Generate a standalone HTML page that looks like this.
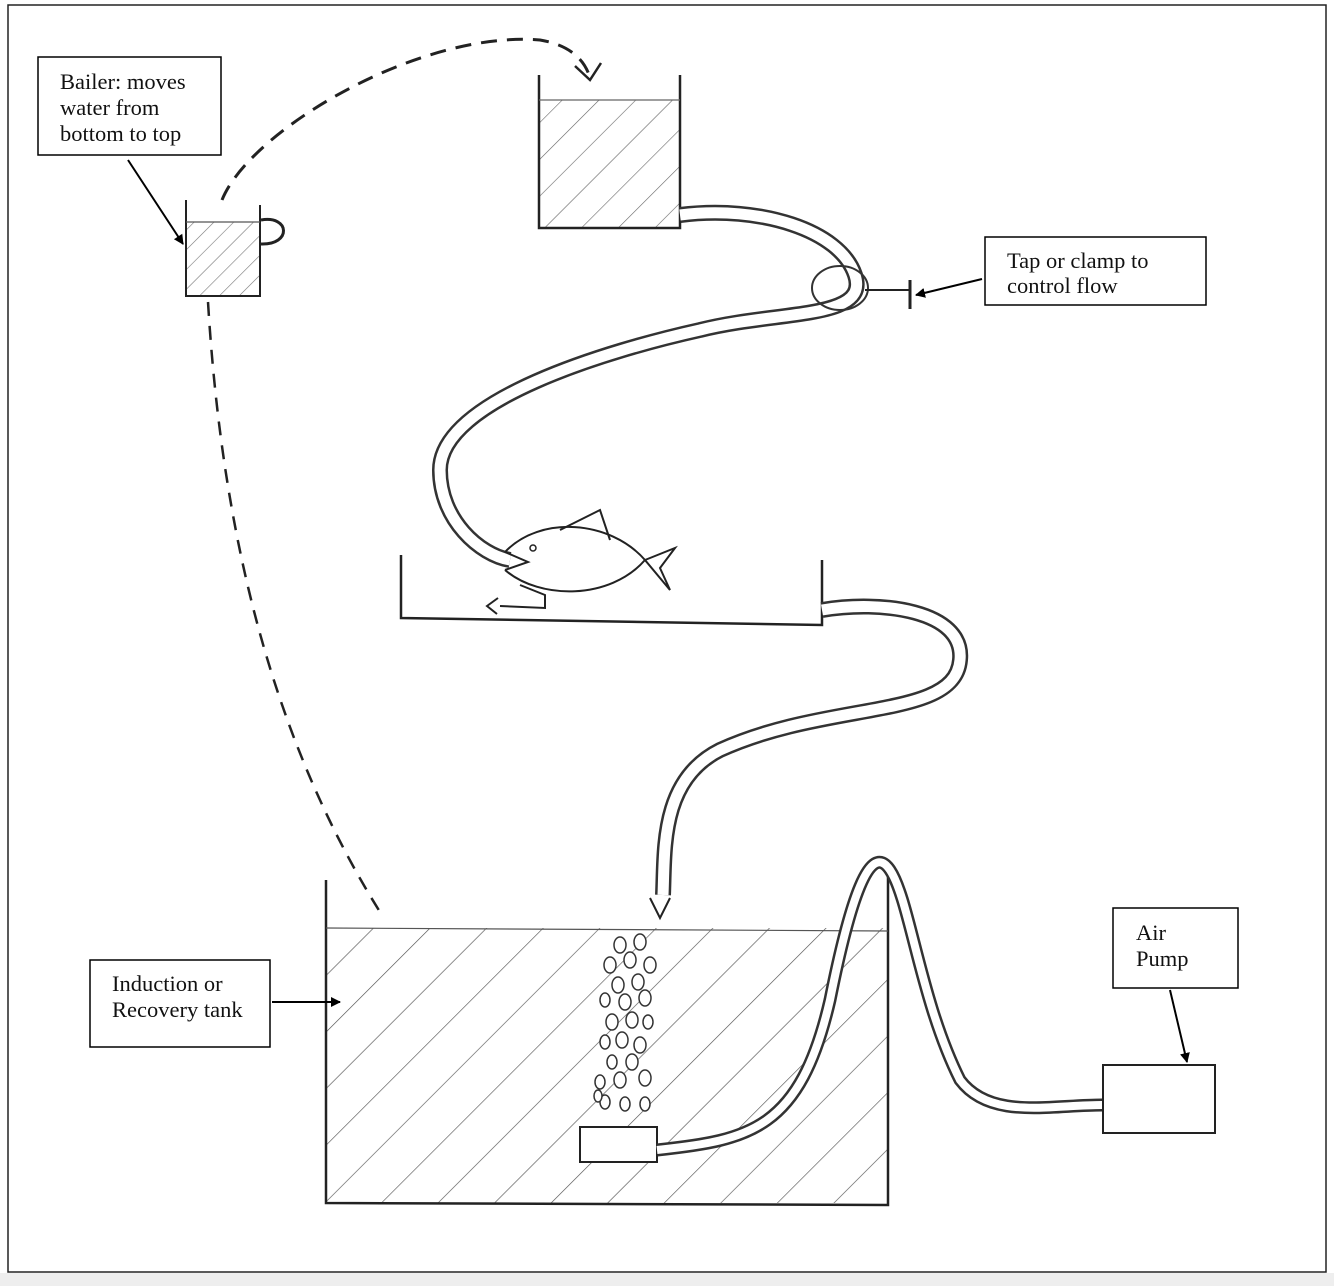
<!DOCTYPE html>
<html><head><meta charset="utf-8"><style>
html,body{margin:0;padding:0;background:#fff;}
svg{display:block;}
text{font-family:"Liberation Serif",serif;font-size:22.5px;fill:#111;}
</style></head><body>
<svg width="1334" height="1286" viewBox="0 0 1334 1286" xmlns="http://www.w3.org/2000/svg">
<defs>
<pattern id="h1" width="40" height="40" patternUnits="userSpaceOnUse" patternTransform="rotate(45)">
<line x1="0" y1="0" x2="0" y2="40" stroke="#555" stroke-width="1.3"/></pattern>
<pattern id="h2" width="26" height="26" patternUnits="userSpaceOnUse" patternTransform="rotate(45)">
<line x1="0" y1="0" x2="0" y2="26" stroke="#666" stroke-width="1.2"/></pattern>
<pattern id="h3" width="14" height="14" patternUnits="userSpaceOnUse" patternTransform="rotate(45)">
<line x1="0" y1="0" x2="0" y2="14" stroke="#777" stroke-width="1.2"/></pattern>
<marker id="ar" markerWidth="10" markerHeight="10" refX="9" refY="5" orient="auto" markerUnits="userSpaceOnUse">
<path d="M0,0 L10,5 L0,10 z" fill="#000"/></marker>
</defs>
<rect x="0" y="0" width="1334" height="1286" fill="#fff"/>
<rect x="0" y="1273" width="1334" height="13" fill="#eee"/>
<rect x="8" y="5" width="1318" height="1267" fill="none" stroke="#222" stroke-width="1.5"/>

<rect x="38" y="57" width="183" height="98" fill="#fff" stroke="#000" stroke-width="1.5"/>
<text x="60" y="89">Bailer: moves</text>
<text x="60" y="115">water from</text>
<text x="60" y="141">bottom to top</text>
<line x1="128" y1="160" x2="183" y2="244" stroke="#000" stroke-width="2" marker-end="url(#ar)"/>

<rect x="186" y="222" width="74" height="73" fill="url(#h3)"/>
<path d="M186,200 L186,296 L260,296 L260,205" fill="none" stroke="#222" stroke-width="2"/>
<line x1="186" y1="222" x2="260" y2="222" stroke="#555" stroke-width="1.2"/>
<path d="M261,220 C290,215 292,245 261,244" fill="none" stroke="#222" stroke-width="3"/>

<path d="M222,200 C250,130 420,30 540,40 C570,45 585,60 590,78" fill="none" stroke="#222" stroke-width="3" stroke-dasharray="16,10"/>
<path d="M575,66 L590,80 L601,63" fill="none" stroke="#222" stroke-width="2.5"/>
<path d="M208,302 C220,500 260,720 380,912" fill="none" stroke="#222" stroke-width="2.5" stroke-dasharray="14,10"/>

<rect x="539" y="100" width="141" height="128" fill="url(#h2)"/>
<path d="M539,75 L539,228 L680,228 L680,75" fill="none" stroke="#222" stroke-width="2.5"/>
<line x1="539" y1="100" x2="680" y2="100" stroke="#666" stroke-width="1.2"/>

<path d="M680,215 C760,205 840,230 855,275 C870,320 780,310 700,330 C610,350 440,400 440,470 C440,520 480,555 510,560" fill="none" stroke="#333" stroke-width="16"/>
<path d="M680,215 C760,205 840,230 855,275 C870,320 780,310 700,330 C610,350 440,400 440,470 C440,520 480,555 510,560" fill="none" stroke="#fff" stroke-width="11"/>
<ellipse cx="840" cy="288" rx="28" ry="22" fill="none" stroke="#333" stroke-width="2"/>
<line x1="865" y1="290" x2="910" y2="290" stroke="#222" stroke-width="2"/>
<line x1="910" y1="280" x2="910" y2="309" stroke="#222" stroke-width="3"/>
<line x1="982" y1="279" x2="916" y2="295" stroke="#000" stroke-width="2" marker-end="url(#ar)"/>
<rect x="985" y="237" width="221" height="68" fill="#fff" stroke="#000" stroke-width="1.5"/>
<text x="1007" y="268">Tap or clamp to</text>
<text x="1007" y="293">control flow</text>

<path d="M401,555 L401,618 L822,625 L822,560" fill="none" stroke="#222" stroke-width="2.5"/>
<path d="M505,552 C540,515 610,520 645,560 C610,600 540,600 505,570" fill="none" stroke="#222" stroke-width="2"/>
<path d="M505,552 L528,562 L505,570" fill="none" stroke="#222" stroke-width="2"/>
<path d="M645,560 L675,548 L660,568 L670,590 Z" fill="none" stroke="#222" stroke-width="2"/>
<path d="M560,530 L600,510 L610,540" fill="none" stroke="#222" stroke-width="2"/>
<circle cx="533" cy="548" r="3" fill="none" stroke="#222" stroke-width="1.5"/>
<path d="M520,585 L545,595 L545,608 L500,606" fill="none" stroke="#222" stroke-width="2"/>
<path d="M498,598 L487,606 L497,614" fill="none" stroke="#222" stroke-width="2"/>

<path d="M822,610 C880,600 965,610 960,660 C955,720 830,700 720,750 C660,780 665,850 663,895" fill="none" stroke="#333" stroke-width="16"/>
<path d="M822,610 C880,600 965,610 960,660 C955,720 830,700 720,750 C660,780 665,850 663,895" fill="none" stroke="#fff" stroke-width="11"/>
<path d="M650,898 L660,918 L670,898" fill="none" stroke="#222" stroke-width="2"/>

<rect x="326" y="928" width="562" height="275" fill="url(#h1)"/>
<path d="M326,880 L326,1203 L888,1205 L888,870" fill="none" stroke="#222" stroke-width="2.5"/>
<line x1="326" y1="928" x2="888" y2="931" stroke="#555" stroke-width="1.2"/>

<g fill="#fff" stroke="#333" stroke-width="1.5">
<ellipse cx="620" cy="945" rx="6" ry="8"/><ellipse cx="640" cy="942" rx="6" ry="8"/>
<ellipse cx="610" cy="965" rx="6" ry="8"/><ellipse cx="630" cy="960" rx="6" ry="8"/><ellipse cx="650" cy="965" rx="6" ry="8"/>
<ellipse cx="618" cy="985" rx="6" ry="8"/><ellipse cx="638" cy="982" rx="6" ry="8"/><ellipse cx="605" cy="1000" rx="5" ry="7"/>
<ellipse cx="625" cy="1002" rx="6" ry="8"/><ellipse cx="645" cy="998" rx="6" ry="8"/>
<ellipse cx="612" cy="1022" rx="6" ry="8"/><ellipse cx="632" cy="1020" rx="6" ry="8"/><ellipse cx="648" cy="1022" rx="5" ry="7"/>
<ellipse cx="605" cy="1042" rx="5" ry="7"/><ellipse cx="622" cy="1040" rx="6" ry="8"/><ellipse cx="640" cy="1045" rx="6" ry="8"/>
<ellipse cx="612" cy="1062" rx="5" ry="7"/><ellipse cx="632" cy="1062" rx="6" ry="8"/>
<ellipse cx="600" cy="1082" rx="5" ry="7"/><ellipse cx="620" cy="1080" rx="6" ry="8"/><ellipse cx="645" cy="1078" rx="6" ry="8"/>
<ellipse cx="605" cy="1102" rx="5" ry="7"/><ellipse cx="625" cy="1104" rx="5" ry="7"/><ellipse cx="645" cy="1104" rx="5" ry="7"/>
<ellipse cx="598" cy="1096" rx="4" ry="6"/>
</g>
<rect x="580" y="1127" width="77" height="35" fill="#fff" stroke="#222" stroke-width="2"/>

<path d="M657,1150 C750,1140 800,1130 830,1000 C850,900 870,840 890,870 C910,900 920,1000 960,1080 C990,1120 1050,1105 1102,1105" fill="none" stroke="#333" stroke-width="13"/>
<path d="M657,1150 C750,1140 800,1130 830,1000 C850,900 870,840 890,870 C910,900 920,1000 960,1080 C990,1120 1050,1105 1102,1105" fill="none" stroke="#fff" stroke-width="8"/>

<rect x="1103" y="1065" width="112" height="68" fill="#fff" stroke="#222" stroke-width="2"/>
<rect x="1113" y="908" width="125" height="80" fill="#fff" stroke="#000" stroke-width="1.5"/>
<text x="1136" y="940">Air</text>
<text x="1136" y="966">Pump</text>
<line x1="1170" y1="990" x2="1187" y2="1062" stroke="#000" stroke-width="2" marker-end="url(#ar)"/>

<rect x="90" y="960" width="180" height="87" fill="#fff" stroke="#000" stroke-width="1.5"/>
<text x="112" y="991">Induction or</text>
<text x="112" y="1017">Recovery tank</text>
<line x1="272" y1="1002" x2="340" y2="1002" stroke="#000" stroke-width="2" marker-end="url(#ar)"/>
</svg>
</body></html>
